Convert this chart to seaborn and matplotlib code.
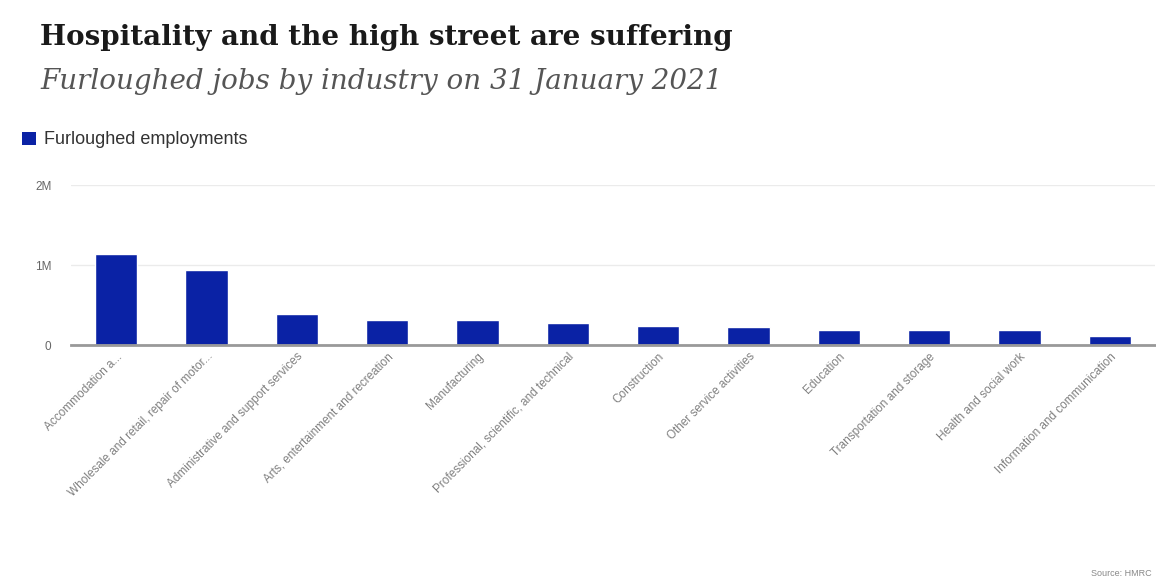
import matplotlib
matplotlib.use("Agg")
import matplotlib.pyplot as plt
import seaborn as sns
import pandas as pd
from matplotlib.patches import Patch

industries = [
    "Accommodation a...",
    "Wholesale and retail, repair of motor...",
    "Administrative and support services",
    "Arts, entertainment and recreation",
    "Manufacturing",
    "Professional, scientific, and technical",
    "Construction",
    "Other service activities",
    "Education",
    "Transportation and storage",
    "Health and social work",
    "Information and communication",
]
furloughed = [1140000, 940000, 390000, 310000, 310000, 280000,
              240000, 220000, 190000, 190000, 190000, 110000]
ytick_values = [0, 1000000, 2000000]
ytick_labels = ["0", "1M", "2M"]

sns.set_theme(style="white")
plt.rcParams["font.family"] = ["Liberation Sans", "DejaVu Sans"]

df = pd.DataFrame({"industry": industries, "value": furloughed})

fig = plt.figure(figsize=(11.56, 5.83), dpi=100)
fig.patch.set_facecolor("white")
ax = fig.add_axes([71/1156, 1-345/583, (1155-71)/1156, (345-185)/583])

sns.barplot(data=df, x="industry", y="value", color="#0a22a5", width=0.47,
            saturation=1, ax=ax, zorder=3)

ax.set_ylim(0, 2000000)
ax.set_xlim(-0.5, len(industries) - 0.5)
ax.set_yticks(ytick_values)
ax.set_yticklabels(ytick_labels, fontsize=8.5, color="#666666")
ax.grid(axis="y", color="#ebebeb", linewidth=1, zorder=0)
ax.grid(axis="x", visible=False)
for s in ["top", "right", "left"]:
    ax.spines[s].set_visible(False)
ax.spines["bottom"].set_color("#999999")
ax.spines["bottom"].set_linewidth(2)
ax.spines["bottom"].set_zorder(4)
ax.tick_params(axis="y", length=0, pad=14)
ax.tick_params(axis="x", length=0, pad=4)
ax.set_xlabel("")
ax.set_ylabel("")
ax.set_xticks(range(len(industries)))
ax.set_xticklabels(industries, rotation=45, ha="right", rotation_mode="anchor",
                   fontsize=8.5, color="#808080")

fig.text(40/1156, 1-45/583, "Hospitality and the high street are suffering",
         fontsize=20, fontweight="bold", family="DejaVu Serif", color="#1a1a1a")
fig.text(40/1156, 1-89/583, "Furloughed jobs by industry on 31 January 2021",
         fontsize=20, style="italic", family="DejaVu Serif", color="#555555")

handle = Patch(facecolor="#0a22a5", edgecolor="none")
fig.legend([handle], ["Furloughed employments"], loc="center left",
           bbox_to_anchor=(6/1156, 1-140/583), frameon=False, fontsize=13,
           handlelength=0.75, handleheight=0.75, handletextpad=0.45,
           labelcolor="#333333")

fig.text(1152/1156, 1-578/583, "Source: HMRC", fontsize=6.5, color="#888888",
         ha="right", va="bottom")

fig.savefig("out.png", dpi=100, facecolor="white")
